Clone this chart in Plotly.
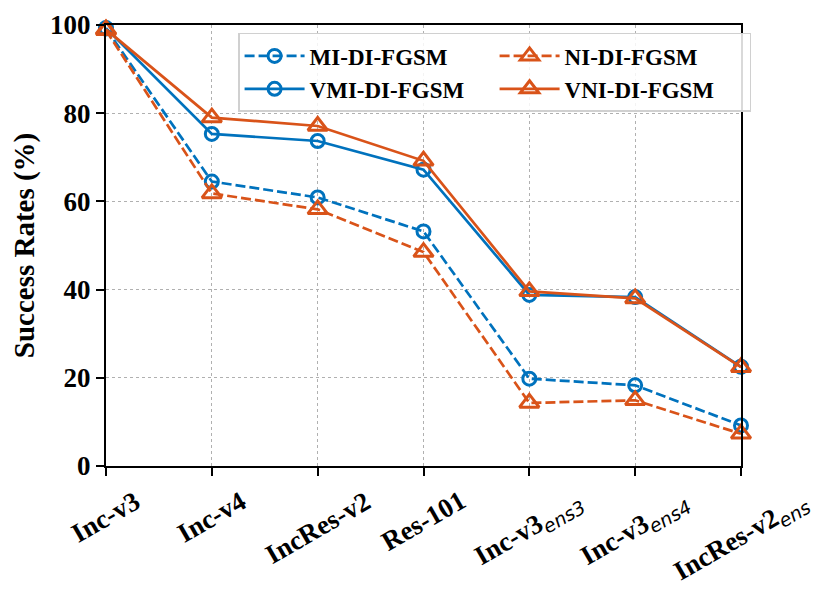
import plotly.graph_objects as go

# === Datos
modelos = ['Inc-v3', 'Inc-v4', 'IncRes-v2', 'Res-101', 'Inc-v3ens3', 'Inc-v3ens4', 'IncRes-v2ens']
sub = '<sub><span style="font-family:\'DejaVu Sans\';font-style:italic;font-weight:normal">{}</span></sub>'
etiquetas = [
    'Inc-v3', 'Inc-v4', 'IncRes-v2', 'Res-101',
    'Inc-v3' + sub.format('ens3'),
    'Inc-v3' + sub.format('ens4'),
    'IncRes-v2' + sub.format('ens'),
]
mi_di = [99.2, 64.5, 60.9, 53.2, 19.8, 18.3, 9.2]
vmi_di = [99.3, 75.3, 73.7, 67.2, 38.8, 38.3, 22.5]
ni_di = [98.8, 61.8, 58.2, 48.5, 14.3, 14.9, 7.3]
vni_di = [99.0, 79.0, 77.1, 69.2, 39.6, 38.0, 22.4]
y_ticks = [0, 20, 40, 60, 80, 100]

azul = '#0072BD'
naranja = '#D95319'
fuente = 'Liberation Serif'

series = [
    ('MI-DI-FGSM', mi_di, azul, '10px,4px', 'circle-open', 13, 1),
    ('VMI-DI-FGSM', vmi_di, azul, 'solid', 'circle-open', 13, 3),
    ('NI-DI-FGSM', ni_di, naranja, '10px,4px', 'triangle-up-open', 17, 2),
    ('VNI-DI-FGSM', vni_di, naranja, 'solid', 'triangle-up-open', 17, 4),
]

fig = go.Figure()
for nombre, valores, color, dash, simbolo, tam, rank in series:
    fig.add_trace(go.Scatter(
        x=list(range(len(modelos))), y=valores, mode='lines+markers', name=nombre,
        line=dict(color=color, width=2.7, dash=dash),
        marker=dict(symbol=simbolo, size=tam, color=color, line=dict(color=color, width=3)),
        legendrank=rank, cliponaxis=False,
    ))

# etiquetas del eje x rotadas y centradas (como matplotlib)
for i, txt in enumerate(etiquetas):
    fig.add_annotation(
        x=i, y=0, xref='x', yref='paper', text=txt, showarrow=False,
        textangle=-30, xanchor='center', yanchor='top', yshift=-17,
        font=dict(family=fuente, size=27, color='black', weight='bold'),
    )

# la página tiene 8px de margen en body: se compensa en los márgenes
fig.update_layout(
    width=830, height=599,
    margin=dict(l=98, r=97, t=17, b=141),
    plot_bgcolor='white', paper_bgcolor='white',
    font=dict(family=fuente, color='black'),
    legend=dict(
        x=0.208, y=0.982, xanchor='left', yanchor='top',
        orientation='h', entrywidth=180, entrywidthmode='pixels', itemwidth=60,
        bgcolor='rgba(255,255,255,0.85)', bordercolor='#d0d0d0', borderwidth=1.5,
        font=dict(family=fuente, size=23, color='black', weight='bold'),
        tracegroupgap=0,
    ),
    showlegend=True,
)
fig.update_xaxes(
    range=[0, 6], tickvals=list(range(len(modelos))), showticklabels=False,
    ticks='outside', ticklen=8, tickwidth=2, tickcolor='black',
    showline=True, linecolor='black', linewidth=2, mirror=True,
    showgrid=True, gridcolor='#b0b0b0', gridwidth=1.3, griddash='dot', zeroline=False,
)
fig.update_yaxes(
    range=[0, 100], tickvals=y_ticks,
    ticks='outside', ticklen=8, tickwidth=2, tickcolor='black',
    tickfont=dict(family=fuente, size=27, color='black', weight='bold'),
    showline=True, linecolor='black', linewidth=2, mirror=True,
    showgrid=True, gridcolor='#b0b0b0', gridwidth=1.3, griddash='dot', zeroline=False,
    title=dict(text='Success Rates (%)', standoff=10,
               font=dict(family=fuente, size=29, color='black', weight='bold')),
    automargin=False,
)

fig.write_html("out.html")
